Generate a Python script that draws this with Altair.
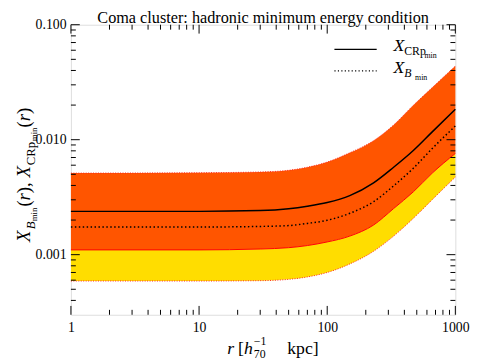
import altair as alt
import pandas as pd

FONT = "Liberation Serif"

# radius r [h70^-1 kpc]
r_vals   = [1, 10, 30, 50, 70, 100, 150, 230, 330, 470, 660, 1000]
# CRp band upper edge, CRp central, B central, CRp band lower edge, B band lower edge
crp_hi   = [0.00512, 0.00516, 0.00524, 0.00542, 0.00576, 0.00639, 0.00770, 0.00981, 0.01343, 0.01991, 0.02838, 0.04376]
crp_mid  = [0.00238, 0.00238, 0.00242, 0.00251, 0.00264, 0.00284, 0.00326, 0.00421, 0.00576, 0.00805, 0.01170, 0.01841]
b_mid    = [0.00174, 0.00174, 0.00176, 0.00179, 0.00187, 0.00199, 0.00229, 0.00289, 0.00397, 0.00565, 0.00838, 0.01317]
crp_lo   = [0.00110, 0.00110, 0.00112, 0.00115, 0.00120, 0.00129, 0.00145, 0.00181, 0.00252, 0.00352, 0.00512, 0.00759]
b_lo     = [0.00059, 0.00059, 0.000594, 0.00061, 0.00064, 0.00070, 0.00083, 0.00107, 0.00145, 0.00207, 0.00301, 0.00473]

x_major = [1, 10, 100, 1000]
x_minor = [2, 3, 4, 5, 6, 7, 8, 9, 20, 30, 40, 50, 60, 70, 80, 90, 200, 300, 400, 500, 600, 700, 800, 900]
y_major = [0.001, 0.01, 0.1]
y_minor = [0.0004, 0.0005, 0.0006, 0.0007, 0.0008, 0.0009,
           0.002, 0.003, 0.004, 0.005, 0.006, 0.007, 0.008, 0.009,
           0.02, 0.03, 0.04, 0.05, 0.06, 0.07, 0.08, 0.09]

W, H = 391, 295

df = pd.DataFrame({"r": r_vals, "crp_hi": crp_hi, "crp_mid": crp_mid, "b_mid": b_mid,
                   "crp_lo": crp_lo, "b_lo": b_lo})

xscale = alt.Scale(type="log", domain=[1, 1000], nice=False)
yscale = alt.Scale(type="log", domain=[0.0003, 0.1], nice=False)

xaxis = alt.Axis(values=x_major, format="d", labelFont=FONT, labelFontSize=14, labelColor="black",
                 ticks=False, domain=False, grid=False, title=None, labelPadding=6,
                 labelFlush=False, labelOverlap=False)
yaxis = alt.Axis(values=y_major, format=".3f", labelFont=FONT, labelFontSize=14, labelColor="black",
                 ticks=False, domain=False, grid=False, title=None, labelPadding=5,
                 labelOverlap=False)

base = alt.Chart(df)
X = alt.X("r:Q", scale=xscale, axis=xaxis)

def Yf(field):
    return alt.Y(field + ":Q", scale=yscale, axis=yaxis)

yellow = base.mark_area(color="#FFDD00", interpolate="monotone").encode(
    x=X, y=Yf("b_lo"), y2="crp_lo:Q")
orange = base.mark_area(color="#FF5500", interpolate="monotone").encode(
    x=X, y=Yf("crp_lo"), y2="crp_hi:Q")

def line(field, color, width, dash=None):
    kw = dict(color=color, strokeWidth=width, interpolate="monotone")
    if dash:
        kw["strokeDash"] = dash
    return base.mark_line(**kw).encode(x=X, y=Yf(field))

edges = [
    line("crp_lo", "#FF0000", 1),
    line("b_lo", "#FF2020", 1, [1, 1.5]),
    line("crp_hi", "#FF2020", 1, [1, 1.5]),
]
curves = [
    line("crp_mid", "black", 1.5),
    line("b_mid", "black", 1.5, [1.5, 2.5]),
]

def yticks(vals, length):
    d = pd.DataFrame({"v": vals})
    return [
        alt.Chart(d).mark_rule(color="black", strokeWidth=1).encode(y=Yf("v"), x=alt.value(0), x2=alt.value(length)),
        alt.Chart(d).mark_rule(color="black", strokeWidth=1).encode(y=Yf("v"), x=alt.value(W - length), x2=alt.value(W)),
    ]

def xticks(vals, length):
    d = pd.DataFrame({"r": vals})
    return [
        alt.Chart(d).mark_rule(color="black", strokeWidth=1).encode(x=X, y=alt.value(H), y2=alt.value(H - length)),
        alt.Chart(d).mark_rule(color="black", strokeWidth=1).encode(x=X, y=alt.value(0), y2=alt.value(length)),
    ]

ticks = yticks(y_major, 9) + yticks(y_minor, 5) + xticks(x_major, 9) + xticks(x_minor, 5)

def txt(s, x, y, size, italic=False, angle=0, align="left"):
    kw = dict(text=s, font=FONT, fontSize=size, align=align, baseline="alphabetic", color="black")
    if italic:
        kw["fontStyle"] = "italic"
    if angle:
        kw["angle"] = angle
    return alt.Chart(alt.Data(values=[{}])).mark_text(**kw).encode(x=alt.value(x), y=alt.value(y))

texts = [
    txt("Coma cluster: hadronic minimum energy condition", W / 2, -2, 16.5, align="center"),
    # x title
    txt("r", 159, 335, 18, italic=True),
    txt("[", 170, 335, 18),
    txt("h", 176, 335, 18, italic=True),
    txt("\u22121", 186, 326, 12),
    txt("70", 186, 339, 12),
    txt("kpc]", 220, 335, 18),
    # y title (rotated)
    txt("X", -42, 221, 19, italic=True, angle=270),
    txt("B", -37, 208, 13, italic=True, angle=270),
    txt("min", -34, 200, 9, angle=270),
    txt("(", -42, 185, 19, angle=270),
    txt("r", -42, 178.7, 19, italic=True, angle=270),
    txt("),", -42, 171.3, 19, angle=270),
    txt("X", -42, 155.5, 19, italic=True, angle=270),
    txt("CRp", -37, 143, 13, angle=270),
    txt("min", -34, 118.5, 9, angle=270),
    txt("(", -42, 104.5, 19, angle=270),
    txt("r", -42, 98.2, 19, italic=True, angle=270),
    txt(")", -42, 90.8, 19, angle=270),
    # legend
    txt("X", 328, 27, 18, italic=True),
    txt("CRp", 339, 31, 12),
    txt("min", 359.5, 34, 8),
    txt("X", 328, 49, 18, italic=True),
    txt("B", 339, 53, 12, italic=True),
    txt("min", 350, 56, 8),
]

legend_lines = [
    alt.Chart(alt.Data(values=[{}])).mark_rule(color="black", strokeWidth=1.2).encode(
        x=alt.value(268), x2=alt.value(311), y=alt.value(25)),
    alt.Chart(alt.Data(values=[{}])).mark_rule(color="black", strokeWidth=1.2, strokeDash=[1.2, 2.3]).encode(
        x=alt.value(268), x2=alt.value(311), y=alt.value(47)),
]

chart = alt.layer(yellow, orange, *edges, *curves, *ticks, *legend_lines, *texts).properties(
    width=W, height=H,
    autosize=alt.AutoSizeParams(type="none"),
    padding={"left": 64, "top": 14, "right": 21, "bottom": 44},
).configure_view(stroke="black", strokeWidth=1).configure(background="white")

chart.save("out.html", embed_options={"renderer": "svg", "actions": False})
